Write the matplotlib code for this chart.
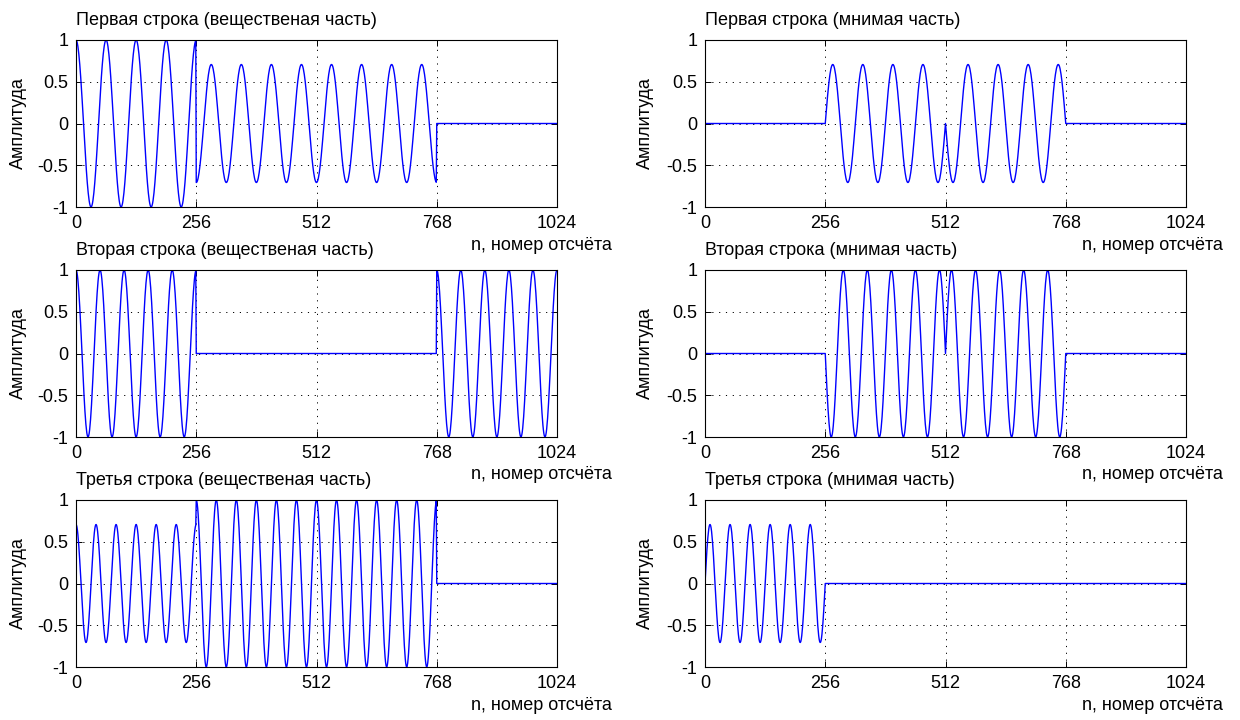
import numpy as np
import matplotlib
matplotlib.use("Agg")
import matplotlib.pyplot as plt

plt.rcParams['font.family'] = ['Liberation Sans', 'DejaVu Sans']
plt.rcParams['font.size'] = 13

# ---- data -------------------------------------------------------------
N = 1024          # samples per row
BLOCK = 256       # samples per block

titles_re = ["Первая строка (вещественая часть)",
             "Вторая строка (вещественая часть)",
             "Третья строка (вещественая часть)"]
titles_im = ["Первая строка (мнимая часть)",
             "Вторая строка (мнимая часть)",
             "Третья строка (мнимая часть)"]

# cycles per 256-sample block in each row
row_cycles = [4, 5, 6]
# cosine amplitude of the real part in each of the four blocks
re_cos = [[1.0, -0.707, -0.707, 0.0],
          [1.0, 0.0, 0.0, 1.0],
          [0.707, 1.0, 1.0, 0.0]]
# sine amplitude of the imaginary part in each of the four blocks
im_sin = [[0.0, 0.707, -0.707, 0.0],
          [0.0, -1.0, 1.0, 0.0],
          [0.707, 0.0, 0.0, 0.0]]

x_ticks = [0, 256, 512, 768, 1024]
y_ticks = [-1, -0.5, 0, 0.5, 1]
y_tick_labels = ["-1", "-0.5", "0", "0.5", "1"]

y_label = "Амплитуда"
x_label = "n, номер отсчёта"


def build_row(cycles, cos_amp, sin_amp, use_cos):
    n_loc = np.arange(BLOCK)
    theta = 2 * np.pi * cycles * n_loc / BLOCK
    parts = []
    for a_c, a_s in zip(cos_amp, sin_amp):
        parts.append(a_c * np.cos(theta) if use_cos else a_s * np.sin(theta))
    return np.concatenate(parts)


n = np.arange(N)

# ---- layout (figure pixels) --------------------------------------------
W, H = 1240, 720
col_left = [76, 705]
col_width = 481
row_top = [40, 270, 500]
row_height = 167
xlabel_left = [471, 1082]
ylabel_x = [18, 645]

fig = plt.figure(figsize=(W / 100, H / 100), dpi=100)
fig.patch.set_facecolor("white")

for r in range(3):
    for c in range(2):
        x0 = col_left[c] / W
        y0 = 1 - (row_top[r] + row_height) / H
        ax = fig.add_axes([x0, y0, col_width / W, row_height / H])
        if c == 0:
            y = build_row(row_cycles[r], re_cos[r], re_cos[r], True)
            title = titles_re[r]
        else:
            y = build_row(row_cycles[r], im_sin[r], im_sin[r], False)
            title = titles_im[r]
        ax.plot(n, y, color="#0000FF", linewidth=1.0)
        ax.set_xlim(0, 1024)
        ax.set_ylim(-1, 1)
        ax.set_xticks(x_ticks)
        ax.set_xticklabels([str(t) for t in x_ticks])
        ax.set_yticks(y_ticks)
        ax.set_yticklabels(y_tick_labels)
        ax.tick_params(direction="in", length=4, width=0.7, pad=5.5,
                       top=True, right=True, labelsize=13, colors="black")
        ax.grid(True, color="black", linestyle=(0, (1.2, 5.8)), linewidth=0.7)
        for sp in ax.spines.values():
            sp.set_linewidth(0.8)
            sp.set_color("black")
        ax.set_title(title, loc="left", pad=11, fontsize=13)
        ax.text((ylabel_x[c] - col_left[c]) / col_width, 0.5, y_label,
                rotation=90, ha="center", va="center", fontsize=13,
                transform=ax.transAxes)
        ax.text((xlabel_left[c] - col_left[c]) / col_width,
                -38 / row_height, x_label, ha="left", va="center",
                fontsize=13, transform=ax.transAxes)

fig.savefig("out.png", dpi=100, facecolor="white")
